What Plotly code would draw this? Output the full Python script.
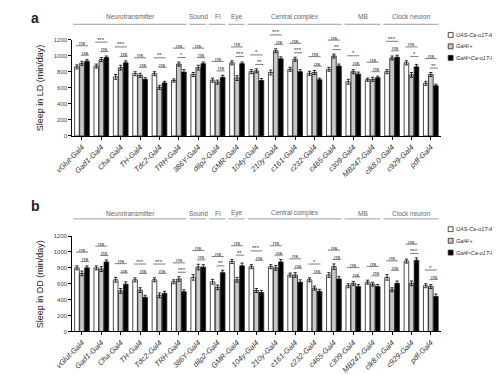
import plotly.graph_objects as go

genotypes = ["vGlut-Gal4", "Gad1-Gal4", "Cha-Gal4", "TH-Gal4", "Tdc2-Gal4", "TRH-Gal4",
             "386Y-Gal4", "dilp2-Gal4", "GMR-Gal4", "104y-Gal4", "210y-Gal4", "c161-Gal4",
             "c232-Gal4", "c465-Gal4", "c309-Gal4", "MB247-Gal4", "clk8.0-Gal4", "c929-Gal4", "pdf-Gal4"]
series_names = ["UAS-Ca-α1T-IR/+", "Gal4/+", "Gal4>Ca-α1T-IR"]

# Panel a: LD sleep (min/day)
ld_uas = [860, 870, 735, 775, 775, 690, 765, 695, 910, 800, 790, 830, 780, 830, 675, 700, 800, 910, 655]
ld_gal4 = [905, 950, 850, 755, 605, 895, 850, 670, 720, 810, 1060, 955, 790, 995, 800, 705, 970, 760, 765]
ld_exp = [930, 975, 910, 705, 660, 795, 900, 730, 900, 690, 960, 800, 700, 870, 770, 725, 980, 860, 625]
ld_uas_err = [25, 25, 30, 25, 25, 20, 25, 25, 25, 25, 30, 25, 25, 25, 30, 20, 25, 25, 25]
ld_gal4_err = [25, 25, 30, 25, 25, 25, 30, 25, 30, 25, 25, 25, 25, 25, 25, 25, 25, 30, 25]
ld_exp_err = [20, 20, 25, 20, 20, 30, 20, 25, 20, 25, 25, 25, 20, 25, 25, 20, 25, 30, 20]
ld_sig_hi = ["ns", "***", "***", "ns", "**", "ns", "ns", "ns", "ns", "*", "***", "ns", "ns", "ns", "*", "ns", "***", "ns", "ns"]
ld_sig_lo = ["ns", "ns", "ns", "ns", "ns", "*", "ns", "ns", "***", "**", "ns", "***", "ns", "**", "ns", "ns", "ns", "*", "**"]

# Panel b: DD sleep (min/day)
dd_uas = [800, 800, 650, 650, 650, 625, 680, 625, 880, 815, 815, 710, 650, 710, 575, 620, 680, 885, 575]
dd_gal4 = [730, 785, 510, 520, 455, 660, 810, 555, 650, 515, 800, 710, 545, 815, 605, 595, 525, 605, 565]
dd_exp = [800, 875, 595, 430, 480, 500, 810, 740, 825, 490, 875, 620, 505, 660, 565, 565, 605, 895, 440]
dd_uas_err = [25, 25, 30, 25, 25, 25, 35, 30, 25, 25, 25, 25, 25, 30, 25, 25, 35, 25, 25]
dd_gal4_err = [30, 30, 30, 30, 30, 30, 35, 30, 30, 25, 30, 30, 25, 35, 25, 25, 25, 30, 25]
dd_exp_err = [25, 25, 30, 25, 25, 25, 30, 30, 35, 25, 30, 30, 25, 30, 25, 25, 30, 30, 30]
dd_sig_hi = ["ns", "ns", "ns", "***", "***", "ns", "ns", "ns", "ns", "***", "ns", "ns", "*", "ns", "ns", "ns", "ns", "ns", "*"]
dd_sig_lo = ["ns", "ns", "ns", "ns", "ns", "***", "ns", "**", "**", "ns", "ns", "ns", "ns", "ns", "ns", "ns", "ns", "***", "ns"]

regions = ["Neurotransmitter", "Sound", "FI", "Eye", "Central complex", "MB", "Clock neuron"]
region_start = [0, 6, 7, 8, 9, 14, 16]
region_end = [5, 6, 7, 8, 13, 15, 18]

y_ticks = [0, 200, 400, 600, 800, 1000, 1200]

W, H = 500, 375
X0, X1 = 48 / W, 430 / W
DOM_A = [1 - 127 / H, 1 - 29 / H]
DOM_B = [1 - 325.7 / H, 1 - 228.7 / H]
YMAX = 1200
N = len(genotypes)
BARGAP = 0.22
GROUPGAP = 0.08
SLOT = (1 - BARGAP) / 3

fills = ["white", "#c8c8c8", "black"]
FONT = "Liberation Sans, Arial, sans-serif"


def xp(v):
    return X0 + (v + 0.5) / N * (X1 - X0)


def yp(v, dom):
    return dom[0] + v / YMAX * (dom[1] - dom[0])


fig = go.Figure()
panels = [
    ("x", "y", DOM_A, [ld_uas, ld_gal4, ld_exp], [ld_uas_err, ld_gal4_err, ld_exp_err], ld_sig_hi, ld_sig_lo,
     "Sleep in LD (min/day)", "a"),
    ("x2", "y2", DOM_B, [dd_uas, dd_gal4, dd_exp], [dd_uas_err, dd_gal4_err, dd_exp_err], dd_sig_hi, dd_sig_lo,
     "Sleep in DD (min/day)", "b"),
]

shapes = []
annotations = []

for xa, ya, dom, vals, errs, shi, slo, ytitle, plabel in panels:
    for k in range(3):
        fig.add_trace(go.Bar(
            x=genotypes, y=vals[k], xaxis=xa, yaxis=ya, name=series_names[k],
            marker=dict(color=fills[k], line=dict(color="#222", width=0.8)),
            error_y=dict(type="data", array=errs[k], color="black", thickness=0.8, width=1.6),
            showlegend=False,
        ))
    # significance marks
    for i in range(N):
        top = max(vals[k][i] + errs[k][i] for k in range(3))
        lo = top + 55
        hi = lo + 118
        for level, txt, xa0, xa1 in [(lo, slo[i], i - 0.06, i + SLOT + 0.1),
                                     (hi, shi[i], i - SLOT - 0.05, i + SLOT + 0.05)]:
            yy = yp(level, dom)
            shapes.append(dict(type="line", xref="paper", yref="paper",
                               x0=xp(xa0), x1=xp(xa1), y0=yy, y1=yy,
                               line=dict(color="#444", width=0.7)))
            annotations.append(dict(text=txt, xref="paper", yref="paper",
                                    x=xp((xa0 + xa1) / 2), y=yy, xanchor="center", yanchor="bottom",
                                    showarrow=False, yshift=-2.5,
                                    font=dict(size=6, color="#333", family=FONT)))
    # region headers
    if plabel == "a":
        line_y, text_y = 1 - 13.5 / H, 1 - 5.7 / H
    else:
        line_y, text_y = 1 - 211.3 / H, 1 - 205.3 / H
    for name, s, e in zip(regions, region_start, region_end):
        shapes.append(dict(type="line", xref="paper", yref="paper",
                           x0=xp(s - 0.45), x1=xp(e + 0.4), y0=line_y, y1=line_y,
                           line=dict(color="#888", width=0.8)))
        annotations.append(dict(text=name, xref="paper", yref="paper",
                                x=xp((s + e) / 2), y=text_y, xanchor="center", yanchor="middle",
                                showarrow=False, font=dict(size=6.5, color="#666", family=FONT)))
    # y title
    annotations.append(dict(text=ytitle, xref="paper", yref="paper", x=14 / W, y=(dom[0] + dom[1]) / 2,
                            xanchor="center", yanchor="middle", textangle=-90, showarrow=False,
                            font=dict(size=9, color="#222", family=FONT)))
    # panel label
    annotations.append(dict(text="<b>%s</b>" % plabel, xref="paper", yref="paper",
                            x=3 / W, y=(1 - 7 / H) if plabel == "a" else (1 - 198 / H),
                            xanchor="left", yanchor="middle", showarrow=False,
                            font=dict(size=14, color="#222", family=FONT)))
    # legend
    if plabel == "a":
        leg_y = [24.3, 35.9, 47.6]
    else:
        leg_y = [221.7, 233.5, 245.5]
    for k in range(3):
        yc = 1 - leg_y[k] / H
        shapes.append(dict(type="rect", xref="paper", yref="paper",
                           x0=438 / W, x1=443 / W, y0=yc - 2.5 / H, y1=yc + 2.5 / H,
                           fillcolor=fills[k], line=dict(color="#222", width=0.8)))
        annotations.append(dict(text=series_names[k], xref="paper", yref="paper",
                                x=444.5 / W, y=yc, xanchor="left", yanchor="middle", showarrow=False,
                                font=dict(size=5.5, color="#333", family=FONT, style="italic")))

xaxis_common = dict(domain=[X0, X1], range=[-0.5, N - 0.5], showline=True, linecolor="black",
                    linewidth=1, ticks="outside", ticklen=3, tickcolor="black", tickangle=-45,
                    tickfont=dict(size=7.5, color="#333", family=FONT, style="italic"),
                    showgrid=False, zeroline=False, fixedrange=True)
yaxis_common = dict(range=[0, YMAX], tickvals=y_ticks, showline=True, linecolor="black", linewidth=1,
                    ticks="outside", ticklen=3, tickcolor="black",
                    tickfont=dict(size=6, color="#444", family=FONT),
                    showgrid=False, zeroline=False)

fig.update_layout(
    width=W, height=H, margin=dict(l=0, r=0, t=0, b=0),
    paper_bgcolor="white", plot_bgcolor="white",
    barmode="group", bargap=BARGAP, bargroupgap=GROUPGAP,
    xaxis=dict(xaxis_common, anchor="y"),
    yaxis=dict(yaxis_common, domain=DOM_A, anchor="x"),
    xaxis2=dict(xaxis_common, anchor="y2"),
    yaxis2=dict(yaxis_common, domain=DOM_B, anchor="x2"),
    shapes=shapes, annotations=annotations,
    font=dict(family=FONT),
)

fig.write_html("out.html")
